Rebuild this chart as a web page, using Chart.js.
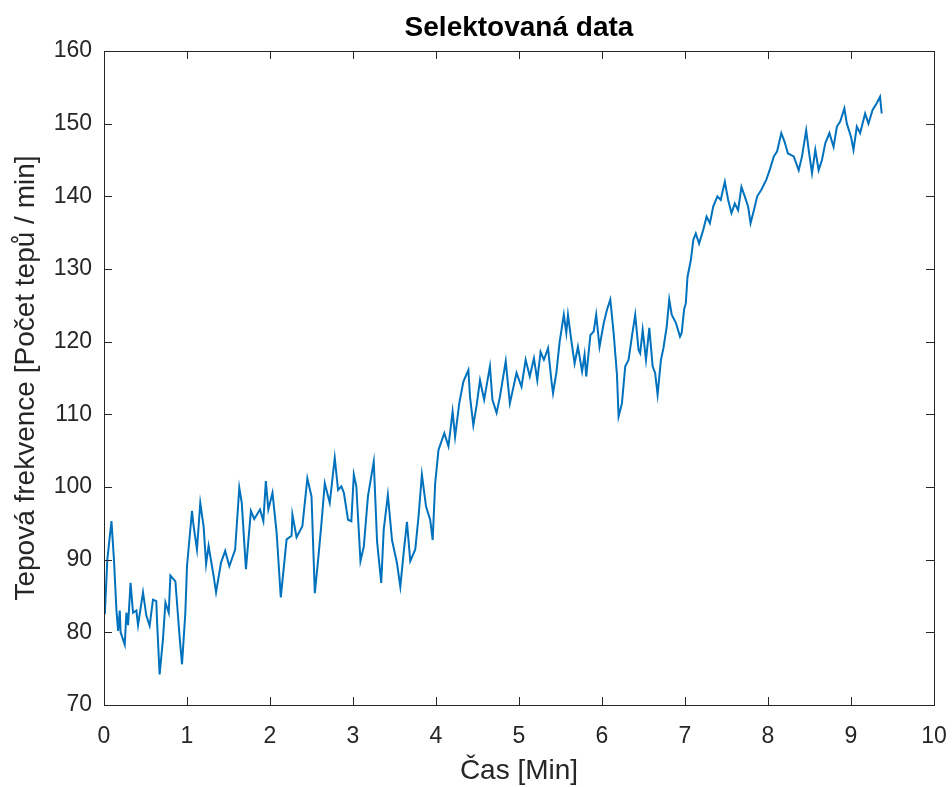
<!DOCTYPE html>
<html>
<head>
<meta charset="utf-8">
<title>Selektovaná data</title>
<script src="https://cdn.jsdelivr.net/npm/chart.js@4.4.1/dist/chart.umd.min.js"></script>
<style>
  html, body { margin: 0; padding: 0; background: #fff; }
  #wrap { width: 952px; height: 787px; }
</style>
</head>
<body>
<div id="wrap"><canvas id="hrChart" width="952" height="787"></canvas></div>
<script>
// čas v minutách
const timeMin = [
  0.01, 0.04, 0.09, 0.12, 0.15, 0.17, 0.19, 0.20, 0.25, 0.27, 0.29, 0.32, 0.35, 0.39, 0.41,
  0.47, 0.51, 0.55, 0.59, 0.63, 0.64, 0.67, 0.71, 0.74, 0.78, 0.80, 0.86, 0.91, 0.94, 0.98,
  1.00, 1.06, 1.08, 1.12, 1.16, 1.20, 1.23, 1.26, 1.32, 1.35, 1.41, 1.46, 1.51, 1.58, 1.63,
  1.66, 1.71, 1.77, 1.81, 1.88, 1.92, 1.95, 1.98, 2.03, 2.08, 2.13, 2.20, 2.26, 2.27, 2.32,
  2.39, 2.45, 2.50, 2.54, 2.58, 2.62, 2.66, 2.72, 2.78, 2.82, 2.86, 2.89, 2.94, 2.98, 3.01,
  3.04, 3.09, 3.13, 3.18, 3.25, 3.29, 3.34, 3.37, 3.42, 3.47, 3.53, 3.57, 3.61, 3.65, 3.69,
  3.75, 3.79, 3.83, 3.88, 3.93, 3.96, 3.99, 4.03, 4.10, 4.15, 4.20, 4.23, 4.28, 4.33, 4.39,
  4.41, 4.45, 4.49, 4.53, 4.58, 4.65, 4.68, 4.73, 4.77, 4.84, 4.89, 4.97, 5.03, 5.08, 5.13,
  5.18, 5.22, 5.26, 5.30, 5.35, 5.39, 5.41, 5.45, 5.49, 5.54, 5.57, 5.59, 5.63, 5.67, 5.71,
  5.76, 5.79, 5.81, 5.86, 5.90, 5.93, 5.97, 6.02, 6.06, 6.10, 6.14, 6.18, 6.20, 6.24, 6.28,
  6.32, 6.36, 6.40, 6.44, 6.46, 6.49, 6.53, 6.57, 6.61, 6.64, 6.67, 6.71, 6.74, 6.78, 6.81,
  6.84, 6.89, 6.94, 6.96, 6.99, 7.01, 7.03, 7.07, 7.10, 7.13, 7.17, 7.22, 7.26, 7.30, 7.34,
  7.39, 7.43, 7.48, 7.52, 7.56, 7.60, 7.64, 7.68, 7.72, 7.76, 7.79, 7.83, 7.87, 7.92, 7.98,
  8.02, 8.07, 8.11, 8.16, 8.20, 8.24, 8.31, 8.37, 8.41, 8.46, 8.49, 8.53, 8.57, 8.61, 8.65,
  8.69, 8.74, 8.79, 8.83, 8.87, 8.92, 8.95, 9.00, 9.03, 9.07, 9.11, 9.17, 9.21, 9.26, 9.31,
  9.35, 9.37
];

// tepová frekvence [tepů / min]
const heartRate = [
  82.5, 90.0, 95.3, 90.0, 83.0, 80.2, 83.0, 80.0, 78.3, 82.7, 81.0, 86.8, 82.7, 83.0, 81.0,
  85.5, 82.3, 80.9, 84.5, 84.3, 81.3, 74.2, 79.0, 84.1, 82.7, 87.8, 87.0, 79.5, 75.6, 82.7,
  89.1, 96.7, 94.6, 91.4, 97.8, 94.6, 89.4, 91.9, 87.8, 85.5, 89.6, 91.2, 89.1, 91.4, 99.9,
  97.8, 88.7, 96.7, 95.6, 96.9, 95.3, 100.8, 96.9, 99.2, 93.7, 84.8, 92.8, 93.3, 96.2, 93.1,
  94.6, 101.2, 98.7, 85.4, 90.0, 95.0, 100.5, 97.8, 104.0, 99.6, 100.1, 99.2, 95.5, 95.3, 101.7,
  100.1, 89.8, 91.8, 98.7, 103.5, 92.5, 86.8, 94.1, 98.9, 92.7, 89.5, 86.3, 90.9, 95.2, 89.8,
  91.4, 96.0, 101.7, 97.3, 95.5, 92.7, 100.5, 105.1, 107.4, 105.6, 110.4, 106.9, 111.5, 114.5, 116.1,
  112.4, 108.5, 111.3, 114.7, 112.0, 116.6, 112.0, 110.2, 112.4, 117.3, 111.5, 115.7, 113.8, 117.5, 115.2,
  117.7, 114.7, 118.6, 117.5, 119.1, 114.7, 112.9, 115.7, 120.0, 123.7, 121.2, 123.7, 120.2, 117.0, 119.3,
  115.9, 118.2, 115.2, 120.9, 121.4, 123.7, 119.3, 122.5, 124.4, 125.8, 121.2, 115.5, 109.7, 111.5, 116.6,
  117.5, 120.7, 123.7, 118.9, 118.4, 121.6, 117.5, 121.9, 116.6, 115.7, 112.7, 117.5, 119.1, 122.1, 125.8,
  123.7, 122.6, 120.7, 121.2, 124.5, 125.3, 128.9, 131.2, 134.0, 134.9, 133.5, 135.4, 137.2, 136.3, 138.6,
  140.0, 139.5, 142.0, 139.5, 137.7, 139.0, 138.1, 141.3, 140.0, 138.6, 136.3, 138.1, 140.0, 140.9, 142.3,
  143.6, 145.5, 146.2, 148.7, 147.5, 145.9, 145.5, 143.6, 145.5, 149.1, 146.4, 143.2, 146.4, 143.6, 145.0,
  147.3, 148.7, 146.8, 149.6, 150.3, 152.1, 150.0, 148.2, 146.4, 149.6, 148.7, 151.4, 150.0, 151.9, 152.8,
  153.7, 151.4
];

const xTicks = [0, 1, 2, 3, 4, 5, 6, 7, 8, 9, 10];
const yTicks = [70, 80, 90, 100, 110, 120, 130, 140, 150, 160];

const axisColor = '#262626';
const fontFamily = '"Liberation Sans", Arial, Helvetica, sans-serif';

// rámeček a ticky dovnitř jako v MATLABu
const matlabBox = {
  id: 'matlabBox',
  afterDraw(chart) {
    const {ctx, chartArea: a, scales} = chart;
    const len = 8;
    ctx.save();
    ctx.strokeStyle = axisColor;
    ctx.lineWidth = 1;
    ctx.beginPath();
    xTicks.forEach(v => {
      const px = Math.round(scales.x.getPixelForValue(v)) + 0.5;
      ctx.moveTo(px, a.bottom); ctx.lineTo(px, a.bottom - len);
      ctx.moveTo(px, a.top); ctx.lineTo(px, a.top + len);
    });
    yTicks.forEach(v => {
      const py = Math.round(scales.y.getPixelForValue(v)) + 0.5;
      ctx.moveTo(a.left, py); ctx.lineTo(a.left + len, py);
      ctx.moveTo(a.right, py); ctx.lineTo(a.right - len, py);
    });
    ctx.stroke();
    ctx.strokeRect(Math.round(a.left) + 0.5, Math.round(a.top) + 0.5,
                   Math.round(a.right - a.left), Math.round(a.bottom - a.top));
    ctx.restore();
  }
};

new Chart(document.getElementById('hrChart'), {
  type: 'line',
  data: {
    datasets: [{
      data: timeMin.map((t, i) => ({x: t, y: heartRate[i]})),
      borderColor: '#0072BD',
      borderWidth: 2,
      pointRadius: 0,
      tension: 0,
      fill: false
    }]
  },
  options: {
    responsive: false,
    animation: false,
    layout: { padding: { left: 0, right: 18, top: 0, bottom: 0 } },
    plugins: {
      legend: { display: false },
      tooltip: { enabled: false },
      title: {
        display: true,
        fullSize: false,
        text: 'Selektovaná data',
        color: '#000',
        font: { family: fontFamily, size: 28, weight: 'bold', lineHeight: 1.2 },
        padding: { top: 11, bottom: 6.4 }
      }
    },
    scales: {
      x: {
        type: 'linear',
        min: 0, max: 10,
        grid: { display: false, drawTicks: false },
        border: { display: false },
        ticks: { stepSize: 1, color: axisColor, padding: 18, maxRotation: 0,
                 font: { family: fontFamily, size: 23 } },
        title: { display: true, text: 'Čas [Min]', color: axisColor,
                 font: { family: fontFamily, size: 28, lineHeight: 1.1 }, padding: { top: 0, bottom: 0 } },
        afterFit(scale) {
          scale.height = 82;
          scale.paddingLeft = 0;
          scale.paddingRight = 0;
        }
      },
      y: {
        min: 70, max: 160,
        grid: { display: false, drawTicks: false },
        border: { display: false },
        ticks: { stepSize: 10, color: axisColor, padding: 12,
                 font: { family: fontFamily, size: 23 } },
        title: { display: true, text: 'Tepová frekvence [Počet tepů / min]', color: axisColor,
                 font: { family: fontFamily, size: 28, lineHeight: 1.2 }, padding: { top: 9, bottom: 0 } },
        afterFit(scale) { scale.width = 104; }
      }
    }
  },
  plugins: [matlabBox]
});
</script>
</body>
</html>
